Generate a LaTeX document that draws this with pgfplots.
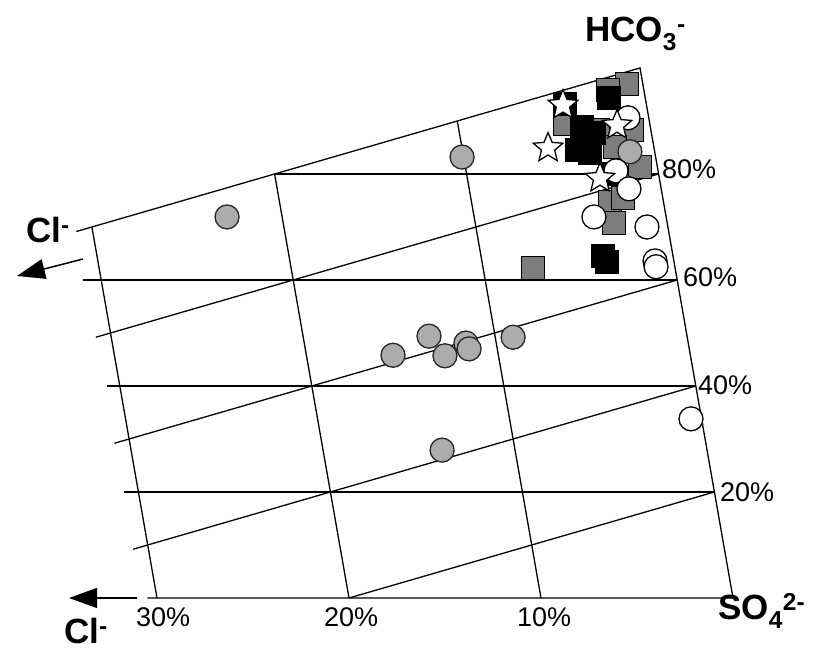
\documentclass[border=0pt]{standalone}
\usepackage{pgfplots}
\pgfplotsset{compat=1.18}
\usepackage{fontspec}
\setmainfont{Liberation Sans}
\usetikzlibrary{arrows.meta}

\definecolor{cgray}{RGB}{172,172,172}
\definecolor{sgray}{RGB}{125,125,125}

\pgfdeclareplotmark{wstar}{%
  \pgfpathmoveto{\pgfpointpolar{90}{\pgfplotmarksize}}%
  \pgfpathlineto{\pgfpointpolar{126}{0.45\pgfplotmarksize}}%
  \pgfpathlineto{\pgfpointpolar{162}{\pgfplotmarksize}}%
  \pgfpathlineto{\pgfpointpolar{198}{0.45\pgfplotmarksize}}%
  \pgfpathlineto{\pgfpointpolar{234}{\pgfplotmarksize}}%
  \pgfpathlineto{\pgfpointpolar{270}{0.45\pgfplotmarksize}}%
  \pgfpathlineto{\pgfpointpolar{306}{\pgfplotmarksize}}%
  \pgfpathlineto{\pgfpointpolar{342}{0.45\pgfplotmarksize}}%
  \pgfpathlineto{\pgfpointpolar{18}{\pgfplotmarksize}}%
  \pgfpathlineto{\pgfpointpolar{54}{0.45\pgfplotmarksize}}%
  \pgfpathclose
  \pgfusepathqfillstroke
}

% ternary (Cl %, HCO3 %) -> drawing plane
\pgfplotsset{table/tern/.style={x expr={733-19.2*\thisrow{Cl}-0.93*\thisrow{H}}, y expr={55+5.3*\thisrow{H}}}}

\newcommand{\ionfont}{\fontsize{35}{40}\selectfont\bfseries}
\newcommand{\pctfont}{\fontsize{27}{30}\selectfont}

\begin{document}
\begin{tikzpicture}
\begin{axis}[x=1pt,y=1pt,xmin=0,xmax=825,ymin=0,ymax=653,hide axis,clip=false,
  gridl/.style={no marks,black,line width=1.3pt,forget plot}]
\path (axis cs:0,0) rectangle (axis cs:825,653);

% frame: bottom, right edge, top edge (SO4 = 0)
\addplot[gridl] table[tern] {Cl H
30.5 0
0 0
0 100
30.85 69.15
};
% constant HCO3
\addplot[gridl] table[tern] {Cl H
30.75 20
0 20
};
\addplot[gridl] table[tern] {Cl H
30.65 40
0 40
};
\addplot[gridl] table[tern] {Cl H
30.95 60
0 60
};
\addplot[gridl] table[tern] {Cl H
20 80
0 80
};
% constant SO4
\addplot[gridl] table[tern] {Cl H
30.8 49.2
0 80
};
\addplot[gridl] table[tern] {Cl H
30.8 29.2
0 60
};
\addplot[gridl] table[tern] {Cl H
30.8 9.2
0 40
};
\addplot[gridl] table[tern] {Cl H
20 0
0 20
};
% constant Cl
\addplot[gridl] table[tern] {Cl H
30 0
30 70
};
\addplot[gridl] table[tern] {Cl H
20 0
20 80
};
\addplot[gridl] table[tern] {Cl H
10 0
10 90
};

% gray squares
\addplot[only marks, mark=square*, mark size=11.5pt, mark options={fill=sgray,draw=black,line width=1.3pt}] table[tern] {Cl H
0.82 97.0
1.87 95.8
4.42 89.4
2.76 88.3
0.98 88.3
2.03 85.1
0.91 81.3
2.79 74.7
2.07 75.5
2.77 70.8
7.40 62.3
};
% black squares
\addplot[only marks, mark=square*, mark size=11.5pt, mark options={fill=black,draw=black,line width=1.3pt}] table[tern] {Cl H
1.89 94.3
4.23 93.2
3.56 88.9
2.99 87.7
4.03 84.5
3.38 84.0
2.43 80.0
3.65 64.5
3.49 63.4
};
% gray circles
\addplot[only marks, mark=*, mark size=12pt, mark options={fill=cgray,draw=black!85,line width=1.3pt}] table[tern] {Cl H
22.87 71.9
10.08 83.2
13.44 49.4
15.49 45.8
12.79 45.7
11.58 48.1
11.47 47.0
9.07 49.2
13.80 27.9
1.29 84.2
};
% white circles
\addplot[only marks, mark=*, mark size=12pt, mark options={fill=white,draw=black,line width=1.3pt}] table[tern] {Cl H
1.08 90.6
2.19 80.6
1.68 77.2
3.76 71.9
1.09 70.0
0.98 63.6
0.98 62.5
0.55 33.8
};
% stars
\addplot[only marks, mark=wstar, mark size=15.5pt, mark options={fill=white,draw=black,line width=1.3pt}] table[tern] {Cl H
4.35 93.0
1.72 89.2
5.52 84.9
3.09 79.2
};

% arrows
\draw[line width=1.5pt,-{Triangle[length=28pt,width=20pt]}] (axis cs:137,55) -- (axis cs:69,55);
\draw[line width=1.5pt,-{Triangle[length=28pt,width=20pt]}] (axis cs:83,394) -- (axis cs:17,377);

% labels
\node[anchor=base west,inner sep=0,font=\ionfont] at (axis cs:585,611) {HCO\textsubscript{3}\textsuperscript{-}};
\node[anchor=base west,inner sep=0,font=\ionfont] at (axis cs:26,410) {Cl\textsuperscript{-}};
\node[anchor=base west,inner sep=0,font=\ionfont] at (axis cs:64,9) {Cl\textsuperscript{-}};
\node[anchor=base west,inner sep=0,font=\ionfont] at (axis cs:718,33) {SO\textsubscript{4}\textsuperscript{2-}};
\node[anchor=base west,inner sep=0,font=\pctfont] at (axis cs:136,26) {30\%};
\node[anchor=base west,inner sep=0,font=\pctfont] at (axis cs:324,26) {20\%};
\node[anchor=base west,inner sep=0,font=\pctfont] at (axis cs:517,26) {10\%};
\node[anchor=base west,inner sep=0,font=\pctfont] at (axis cs:662,474) {80\%};
\node[anchor=base west,inner sep=0,font=\pctfont] at (axis cs:683,366) {60\%};
\node[anchor=base west,inner sep=0,font=\pctfont] at (axis cs:698,258) {40\%};
\node[anchor=base west,inner sep=0,font=\pctfont] at (axis cs:720,151) {20\%};
\end{axis}
\end{tikzpicture}
\end{document}
